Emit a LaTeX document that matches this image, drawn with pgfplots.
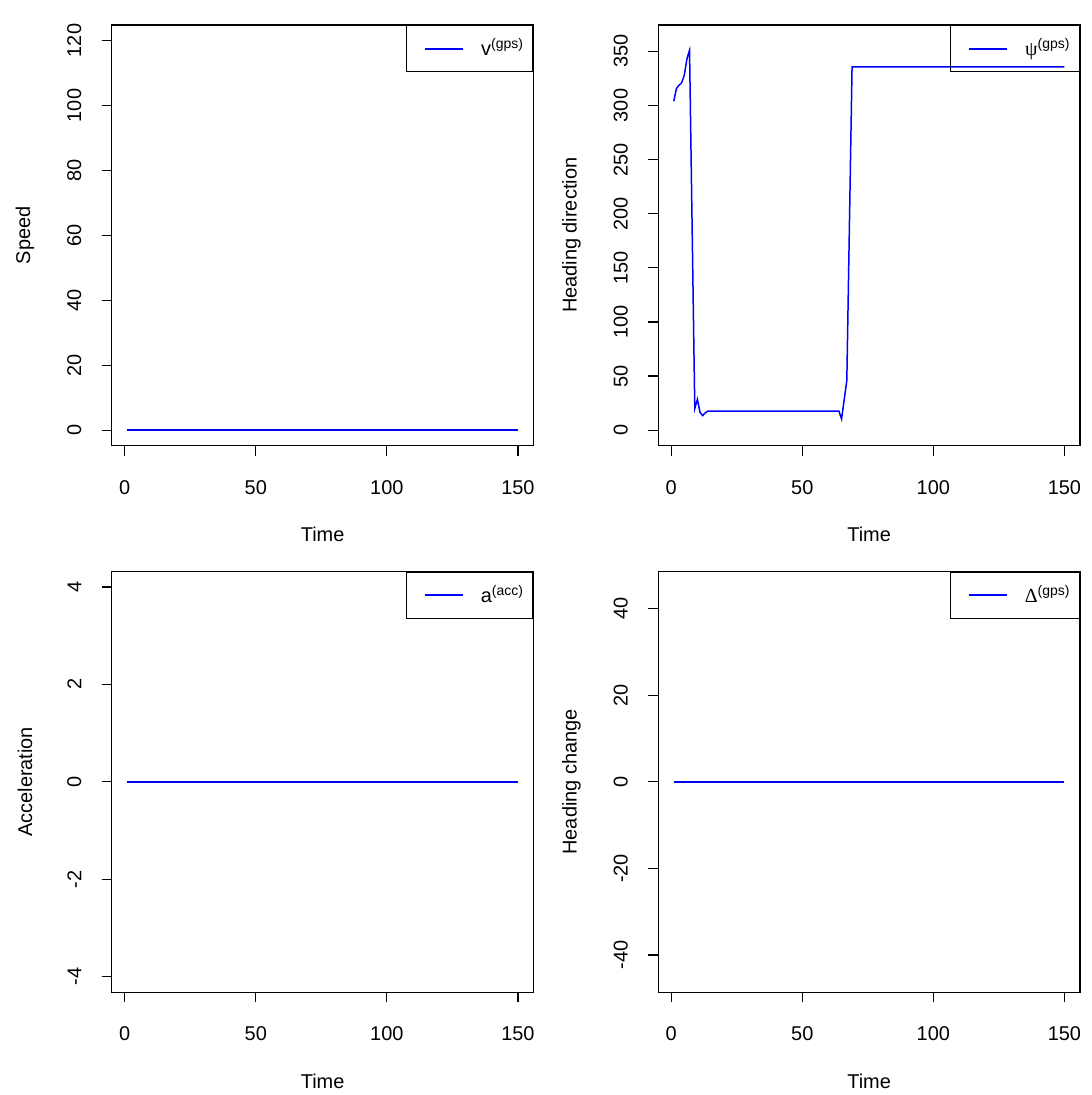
\documentclass[border=0pt]{standalone}
\usepackage{fontspec}
\setmainfont{Liberation Sans}
\newfontfamily\grk{Liberation Serif}
\usepackage{pgfplots}
\pgfplotsset{compat=1.18}

\pgfplotsset{
  rpanel/.style={
    scale only axis, width=211.5pt, height=211pt,
    anchor=south west, axis line style={line width=0.6pt},
    xmin=-4.96, xmax=155.96,
    xtick={0,50,100,150}, tick align=outside, tick pos=left,
    major tick length=5pt, tick style={line width=0.6pt,black},
    font=\fontsize{10}{12}\selectfont,
    /pgf/number format/assume math mode=true,
    xticklabel style={anchor=north, inner sep=0pt, yshift=-12pt},
    yticklabel style={rotate=90, anchor=south, inner sep=0pt, yshift=10pt},
    xlabel={Time},
    xlabel style={at={(axis description cs:0.5,-0.2109)}, anchor=center},
    ylabel style={at={(axis description cs:-0.2057,0.5)}, anchor=center},
    legend style={at={(1,1)}, anchor=north east, draw=black, fill=none,
      line width=0.6pt, inner xsep=2.5pt, inner ysep=4.5pt,
      font=\fontsize{10}{12}\selectfont,
      /tikz/every odd column/.append style={column sep=6.5pt}},
    legend image code/.code={\path (0pt,0pt); \draw[draw=blue, line width=1pt] (6.5pt,0pt) -- (25.5pt,0pt);},
  },
  rline/.style={blue, line width=0.75pt, no marks},
}

\begin{document}
\begin{tikzpicture}
\path (0,0) rectangle (547.5pt,547.5pt);

% top left: speed
\begin{axis}[rpanel, at={(56pt,324pt)},
  ymin=-4.8, ymax=124.8, ytick={0,20,40,60,80,100,120}, ylabel={Speed}]
\addplot[rline] coordinates {(1,0) (150,0)};
\legend{v\textsuperscript{(gps)}}
\end{axis}

% top right: heading direction
\begin{axis}[rpanel, at={(330pt,324pt)},
  ymin=-14.4, ymax=374.4, ytick={0,50,100,150,200,250,300,350}, ylabel={Heading direction}]
\addplot[rline] coordinates {
  (1,304) (2,315.7) (3,318.7) (4,321) (5,328) (6,343) (7,351)
  (9,20) (10,28.5) (11,16.5) (12,13.5) (13,16) (14,17.7)
  (20,17.7) (30,17.7) (40,17.7) (50,17.7) (60,17.7) (64,17.7)
  (65,10.4) (67,46) (69,335.6) (80,335.6) (100,335.6) (120,335.6) (150,335.6)};
\legend{{\grk ψ}\textsuperscript{(gps)}}
\end{axis}

% bottom left: acceleration
\begin{axis}[rpanel, at={(56pt,50pt)},
  ymin=-4.32, ymax=4.32, ytick={-4,-2,0,2,4}, yticklabels={-4,-2,0,2,4}, ylabel={Acceleration}]
\addplot[rline] coordinates {(1,0) (150,0)};
\legend{a\textsuperscript{(acc)}}
\end{axis}

% bottom right: heading change
\begin{axis}[rpanel, at={(330pt,50pt)},
  ymin=-48.6, ymax=48.6, ytick={-40,-20,0,20,40}, yticklabels={-40,-20,0,20,40}, ylabel={Heading change}]
\addplot[rline] coordinates {(1,0) (150,0)};
\legend{{\grk Δ}\textsuperscript{(gps)}}
\end{axis}
\end{tikzpicture}
\end{document}
